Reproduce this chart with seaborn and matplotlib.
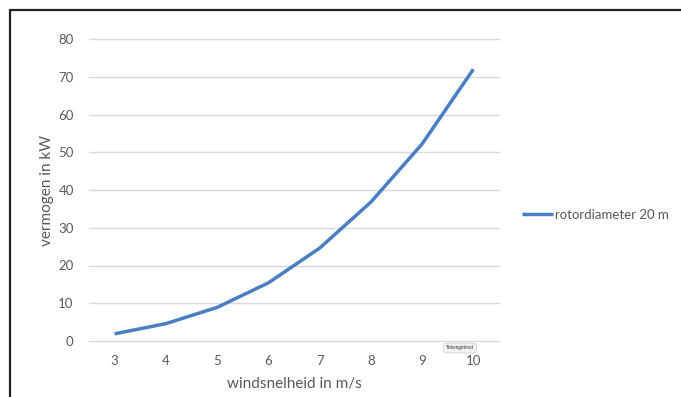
import matplotlib
matplotlib.use('Agg')
import matplotlib.pyplot as plt
import seaborn as sns
import pandas as pd
from matplotlib.lines import Line2D

# data
windsnelheid = [3, 4, 5, 6, 7, 8, 9, 10]
vermogen = [1.9, 4.6, 8.9, 15.4, 24.6, 36.8, 52.2, 72.0]
reeks = 'rotordiameter 20 m'

df = pd.DataFrame({'wind': windsnelheid, 'kW': vermogen})

sns.set_style('white')
plt.rcParams['font.family'] = ['Lato', 'DejaVu Sans']
grijs = '#595959'

fig = plt.figure(figsize=(6.81, 3.97), dpi=100)
ax = fig.add_axes([89 / 681, 1 - 341 / 397, 410 / 681, 302 / 397])

sns.lineplot(data=df, x='wind', y='kW', ax=ax, color='#4A7EC4',
             linewidth=2.5, label=reeks, solid_capstyle='butt')

ax.set_xlim(2.5, 10.5)
ax.set_ylim(0, 80)
ax.set_xticks(windsnelheid)
ax.set_yticks(range(0, 81, 10))
ax.yaxis.grid(True, color='#D9D9D9', linewidth=1)
ax.xaxis.grid(False)
for g in ax.get_ygridlines():
    g.set_clip_on(False)
for s in ax.spines.values():
    s.set_visible(False)
ax.tick_params(axis='both', length=0, labelsize=9.5, labelcolor=grijs)
ax.tick_params(axis='y', pad=11)
ax.tick_params(axis='x', pad=10)

ax.set_xlabel('windsnelheid in m/s', fontsize=11, color=grijs)
ax.set_ylabel('vermogen in kW', fontsize=11, color=grijs)
ax.xaxis.set_label_coords(0.5, -0.12)
ax.yaxis.set_label_coords(-0.085, 0.5)

ax.legend(loc='center left', bbox_to_anchor=(515 / 681, 1 - 215 / 397),
          bbox_transform=fig.transFigure, frameon=False, fontsize=9.5,
          handlelength=2.4, handletextpad=0.15, borderpad=0, labelcolor=grijs)

# small 'Tekengebied' tooltip
fig.text(460 / 681, 1 - 348 / 397, 'Tekengebied', fontsize=3.5, color='#333333',
         ha='center', va='center',
         bbox=dict(boxstyle='round,pad=0.5', fc='#F2F2F2', ec='#D0D0D0', lw=0.5))

# outer frame of the screenshot
fig.add_artist(Line2D([10 / 681, 10 / 681], [0, 1 - 10 / 397], color='#222222', lw=1.6))
fig.add_artist(Line2D([10 / 681, 1], [1 - 10 / 397, 1 - 10 / 397], color='#222222', lw=1.6))

plt.savefig('out.png', dpi=100)
